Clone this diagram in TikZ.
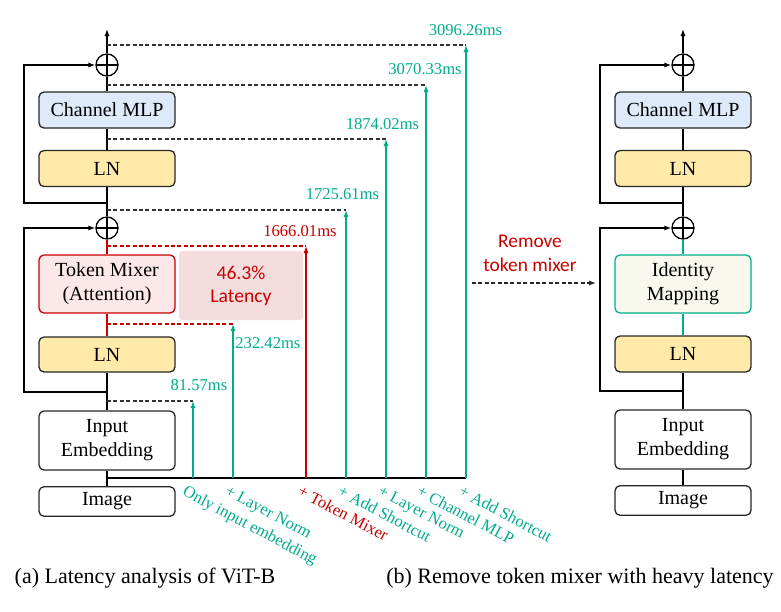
\documentclass[tikz,border=0pt]{standalone}
\usepackage{fontspec}
\setmainfont{LiberationSerif}[Extension=.ttf,UprightFont=*-Regular,BoldFont=*-Bold,ItalicFont=*-Italic]
\newfontfamily\calibfont{Carlito}
\usepackage{xcolor}
\usepackage{tikz}
\usetikzlibrary{arrows.meta,positioning,calc}
\definecolor{latteal}{RGB}{0,172,140}
\definecolor{latred}{RGB}{200,0,0}
\definecolor{mlpblue}{RGB}{222,234,250}
\definecolor{lnyellow}{RGB}{255,234,170}
\definecolor{mixerpink}{RGB}{252,232,232}
\definecolor{sharepink}{RGB}{246,221,221}
\definecolor{idfill}{RGB}{248,248,238}
\tikzset{
  blockbox/.style={draw=black!85,rounded corners=2.5pt,line width=0.65pt,minimum width=68pt,
    align=center,inner sep=1pt,font=\fontsize{10}{12}\selectfont},
  lnbox/.style={blockbox,fill=lnyellow,minimum height=18pt},
  mlpbox/.style={blockbox,fill=mlpblue,minimum height=18pt},
  addnode/.style={draw,circle,minimum size=11pt,inner sep=0pt,line width=0.65pt,
    path picture={\draw[line width=0.65pt] (path picture bounding box.west) -- (path picture bounding box.east)
      (path picture bounding box.north) -- (path picture bounding box.south);}},
  flowline/.style={line width=0.65pt},
  flowarrow/.style={line width=0.65pt,-{Latex[length=3.5pt,width=2.6pt]}},
  tapline/.style={line width=0.6pt,dash pattern=on 2pt off 1.2pt},
  bararrow/.style={line width=0.8pt,draw=latteal,-{Latex[length=3.5pt,width=2.6pt]}},
  mslabel/.style={font=\fontsize{8.3}{10}\selectfont,text=latteal,inner sep=0pt},
  steplabel/.style={font=\fontsize{8.3}{10}\selectfont,text=latteal,rotate=-28,anchor=north west,inner sep=0pt},
  captionlabel/.style={font=\fontsize{11}{13}\selectfont,inner sep=0pt}
}
\begin{document}
\begin{tikzpicture}[x=0.5pt,y=-0.5pt]
  \useasboundingbox (0,0) rectangle (781,611);
  % (a) left block
  \node[addnode] (plusA) at (107,65) {};
  \node[mlpbox] (mlpA) at (107,110) {Channel MLP};
  \node[lnbox] (lnA2) at (107,168.5) {LN};
  \node[addnode] (plusB) at (107,228) {};
  \node[blockbox,draw=latred,fill=mixerpink,minimum height=29pt] (mixer) at (107,284) {Token Mixer\\(Attention)};
  \node[lnbox,minimum height=17.5pt] (lnA1) at (107,354.5) {LN};
  \node[blockbox,minimum height=29.5pt] (embA) at (107,440.5) {Input\\Embedding};
  \node[blockbox,minimum height=14.75pt] (imgA) at (107,501.5) {Image};
  \node[fill=sharepink,rounded corners=1.5pt,minimum width=62pt,minimum height=34.5pt,align=center,
    text=latred,font=\calibfont\fontsize{9.8}{11.5}\selectfont] (share) at (241,285.5) {46.3\%\\Latency};
  \coordinate (outA) at (107,29);
  \coordinate (loopA) at (107,203);
  \coordinate (loopAl) at (24,203);
  \coordinate (loopB) at (107,392);
  \coordinate (loopBl) at (24,392);
  \draw[flowline] (imgA) -- (embA);
  \draw[flowline] (embA) -- (lnA1);
  \draw[flowline,latred] (lnA1) -- (mixer);
  \draw[flowline,latred] (mixer) -- (plusB);
  \draw[flowline] (plusB) -- (lnA2);
  \draw[flowline] (lnA2) -- (mlpA);
  \draw[flowline] (mlpA) -- (plusA);
  \draw[flowarrow] (plusA) -- (outA);
  \draw[flowarrow] (loopA) -- (loopAl) |- (plusA.west);
  \draw[flowarrow] (loopB) -- (loopBl) |- (plusB.west);
  % latency taps
  \coordinate (tapA) at (107,401);
  \coordinate (tapB) at (107,324);
  \coordinate (tapC) at (107,246);
  \coordinate (tapD) at (107,210);
  \coordinate (tapE) at (107,139);
  \coordinate (tapF) at (107,85);
  \coordinate (tapG) at (107,45);
  \coordinate (base) at (107,478);
  \coordinate (barA) at (193,478);
  \coordinate (barB) at (233,478);
  \coordinate (barC) at (306,478);
  \coordinate (barD) at (346,478);
  \coordinate (barE) at (386,478);
  \coordinate (barF) at (426,478);
  \coordinate (barG) at (466,478);
  \draw[flowline] (base) -- (barG);
  \draw[tapline,black!80] (tapA) -- (tapA -| barA);
  \draw[tapline,latred] (tapB) -- (tapB -| barB);
  \draw[tapline,latred] (tapC) -- (tapC -| barC);
  \draw[tapline,black!80] (tapD) -- (tapD -| barD);
  \draw[tapline,black!80] (tapE) -- (tapE -| barE);
  \draw[tapline,black!80] (tapF) -- (tapF -| barF);
  \draw[tapline,black!80] (tapG) -- (tapG -| barG);
  \draw[bararrow] (barA) -- (barA |- tapA);
  \draw[bararrow] (barB) -- (barB |- tapB);
  \draw[bararrow,draw=latred] (barC) -- (barC |- tapC);
  \draw[bararrow] (barD) -- (barD |- tapD);
  \draw[bararrow] (barE) -- (barE |- tapE);
  \draw[bararrow] (barF) -- (barF |- tapF);
  \draw[bararrow] (barG) -- (barG |- tapG);
  \node[mslabel] (msA) at (199,385) {81.57ms};
  \node[mslabel,anchor=west] (msB) at (235,343) {232.42ms};
  \node[mslabel,text=latred] (msC) at (300,231) {1666.01ms};
  \node[mslabel] (msD) at (342.5,194) {1725.61ms};
  \node[mslabel] (msE) at (382.5,124) {1874.02ms};
  \node[mslabel] (msF) at (425,69) {3070.33ms};
  \node[mslabel] (msG) at (465.5,30) {3096.26ms};
  \node[steplabel] (stepA) at (187,484) {Only input embedding};
  \node[steplabel] (stepB) at (229,484) {+ Layer Norm};
  \node[steplabel,text=latred] (stepC) at (302,484) {+ Token Mixer};
  \node[steplabel] (stepD) at (342,484) {+ Add Shortcut};
  \node[steplabel] (stepE) at (382,484) {+ Layer Norm};
  \node[steplabel] (stepF) at (421,484) {+ Channel MLP};
  \node[steplabel] (stepG) at (463,484) {+ Add Shortcut};
  % removal
  \node[text=latred,align=center,font=\calibfont\fontsize{9.7}{12}\selectfont] (remove) at (530,253) {Remove\\token mixer};
  \coordinate (remS) at (472,283);
  \coordinate (remE) at (596,283);
  \draw[tapline,black!85,-{Latex[length=3.5pt,width=2.6pt]}] (remS) -- (remE);
  % (b) right block
  \node[addnode] (plusC) at (683,65) {};
  \node[mlpbox] (mlpB) at (683,110) {Channel MLP};
  \node[lnbox] (lnB2) at (683,168.5) {LN};
  \node[addnode] (plusD) at (683,228) {};
  \node[blockbox,draw=latteal,fill=idfill,minimum height=29pt] (ident) at (683,284) {Identity\\Mapping};
  \node[lnbox] (lnB1) at (683,354) {LN};
  \node[blockbox,minimum height=29.5pt] (embB) at (683,439.5) {Input\\Embedding};
  \node[blockbox,minimum height=14.75pt] (imgB) at (683,500.5) {Image};
  \coordinate (outB) at (683,29);
  \coordinate (loopC) at (683,203);
  \coordinate (loopCl) at (600,203);
  \coordinate (loopD) at (683,391);
  \coordinate (loopDl) at (600,391);
  \draw[flowline] (imgB) -- (embB);
  \draw[flowline] (embB) -- (lnB1);
  \draw[flowline,latteal] (lnB1) -- (ident);
  \draw[flowline,latteal] (ident) -- (plusD);
  \draw[flowline] (plusD) -- (lnB2);
  \draw[flowline] (lnB2) -- (mlpB);
  \draw[flowline] (mlpB) -- (plusC);
  \draw[flowarrow] (plusC) -- (outB);
  \draw[flowarrow] (loopC) -- (loopCl) |- (plusC.west);
  \draw[flowarrow] (loopD) -- (loopDl) |- (plusD.west);
  % captions
  \node[captionlabel] (capA) at (145,578) {(a) Latency analysis of ViT-B};
  \node[captionlabel] (capB) at (580,578) {(b) Remove token mixer with heavy latency};
\end{tikzpicture}
\end{document}
